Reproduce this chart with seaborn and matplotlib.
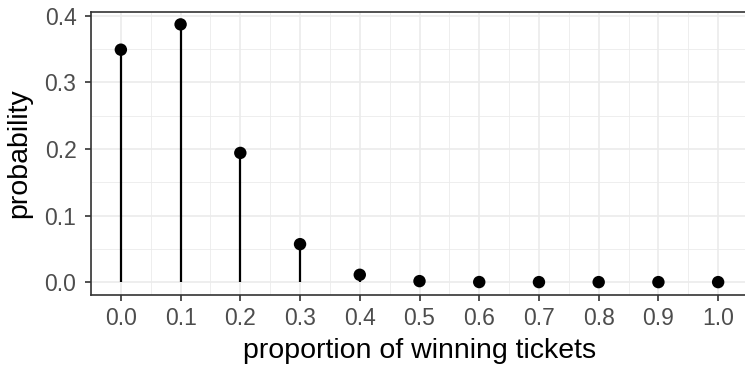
import matplotlib
matplotlib.use("Agg")
import matplotlib.pyplot as plt
import seaborn as sns
import pandas as pd
from matplotlib.ticker import MultipleLocator

# datos
proporcion = [0.0, 0.1, 0.2, 0.3, 0.4, 0.5, 0.6, 0.7, 0.8, 0.9, 1.0]
probabilidad = [0.349, 0.387, 0.194, 0.057, 0.011, 0.0015, 0.0001, 0.0, 0.0, 0.0, 0.0]
x_ticks = [0.0, 0.1, 0.2, 0.3, 0.4, 0.5, 0.6, 0.7, 0.8, 0.9, 1.0]
y_ticks = [0.0, 0.1, 0.2, 0.3, 0.4]

df = pd.DataFrame({"proporcion": proporcion, "probabilidad": probabilidad})

sns.set_style("white")
plt.rcParams["font.family"] = ["Liberation Sans", "DejaVu Sans"]

fig = plt.figure(figsize=(7.45, 3.66), dpi=100)
W, H = 745, 366
# el panel se sale un poco por la derecha, como en la referencia
ax = fig.add_axes([91 / W, 1 - 295 / H, (748 - 91) / W, (295 - 11.5) / H])

ax.vlines(df["proporcion"], 0, df["probabilidad"], color="black", linewidth=1.6, zorder=3)
sns.scatterplot(data=df, x="proporcion", y="probabilidad", ax=ax, color="black",
                s=80, edgecolor="none", zorder=4, legend=False)

ymax = max(probabilidad)
ax.set_xlim(-0.05, 1.05)
ax.set_ylim(-0.05 * ymax, ymax * 1.05)
ax.set_xticks(x_ticks)
ax.set_xticklabels([f"{v:.1f}" for v in x_ticks])
ax.set_yticks(y_ticks)
ax.set_yticklabels([f"{v:.1f}" for v in y_ticks])
ax.xaxis.set_minor_locator(MultipleLocator(0.05))
ax.yaxis.set_minor_locator(MultipleLocator(0.05))

ax.grid(which="major", color="#EBEBEB", linewidth=1.2, zorder=0)
ax.grid(which="minor", color="#EBEBEB", linewidth=0.6, zorder=0)
ax.set_axisbelow(True)

for s in ax.spines.values():
    s.set_color("#333333")
    s.set_linewidth(1.2)

# el estilo "white" de seaborn quita las marcas; las volvemos a poner
ax.tick_params(which="major", bottom=True, left=True, length=4.5, width=1.2,
               color="#333333", labelsize=16.5, labelcolor="#4D4D4D")
ax.tick_params(axis="x", which="major", pad=4)
ax.tick_params(axis="y", which="major", pad=6)
ax.tick_params(which="minor", length=0)

ax.set_xlabel("proportion of winning tickets", fontsize=20.5, color="black", labelpad=6)
ax.set_ylabel("probability", fontsize=20.5, color="black", labelpad=9)

fig.savefig("out.png", dpi=100)
